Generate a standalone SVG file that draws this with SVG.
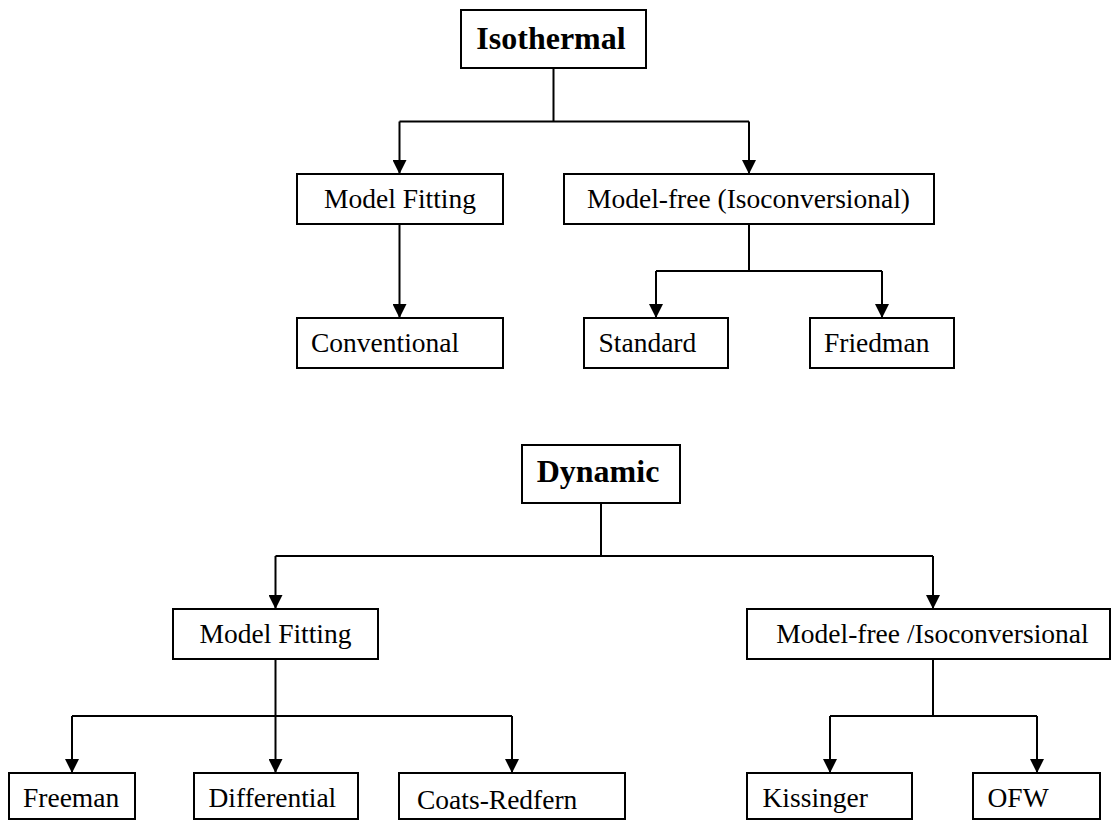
<svg xmlns="http://www.w3.org/2000/svg" width="1112" height="820" viewBox="0 0 1112 820">
<defs>
<marker id="arr" markerUnits="userSpaceOnUse" markerWidth="14" markerHeight="14" viewBox="0 0 14 14" refX="14" refY="7" orient="auto"><path d="M0,0 L14,7 L0,14 z" fill="#000"/></marker>
</defs>
<style>
.box{fill:#fff;stroke:#000;stroke-width:2}
.t{font-family:"Liberation Serif","Times New Roman",serif;font-size:27.5px;fill:#000}
.c{text-anchor:middle}
.b{font-weight:bold;font-size:32px}
.ln{fill:none;stroke:#000;stroke-width:2}
.ar{fill:none;stroke:#000;stroke-width:2;marker-end:url(#arr)}
</style>
<rect width="1112" height="820" fill="#fff"/>
<g id="connectors">
<path class="ln" d="M553.5,68 V121.5 M399.5,121.5 H749"/>
<path class="ar" d="M399.5,121.5 V174"/>
<path class="ar" d="M749,121.5 V174"/>
<path class="ar" d="M399.5,224 V318"/>
<path class="ln" d="M749,224 V271 M656,271 H882"/>
<path class="ar" d="M656,271 V318"/>
<path class="ar" d="M882,271 V318"/>
<path class="ln" d="M601,503 V556 M275.5,556 H933"/>
<path class="ar" d="M275.5,556 V609"/>
<path class="ar" d="M933,556 V609"/>
<path class="ln" d="M72,716 H512"/>
<path class="ar" d="M275.5,659 V773"/>
<path class="ar" d="M72,716 V773"/>
<path class="ar" d="M512,716 V773"/>
<path class="ln" d="M933,659 V716 M830,716 H1037"/>
<path class="ar" d="M830,716 V773"/>
<path class="ar" d="M1037,716 V773"/>
</g>
<g id="isothermal"><rect class="box" x="461" y="10" width="185" height="58"/><text class="t b c" x="551" y="48.5">Isothermal</text></g>
<g id="iso-model-fitting"><rect class="box" x="297" y="174" width="206" height="50"/><text class="t c" x="400" y="207.5">Model Fitting</text></g>
<g id="iso-model-free"><rect class="box" x="564" y="174" width="370" height="50"/><text class="t c" x="748.5" y="207.5">Model-free (Isoconversional)</text></g>
<g id="conventional"><rect class="box" x="297" y="318" width="206" height="50"/><text class="t" x="311" y="352">Conventional</text></g>
<g id="standard"><rect class="box" x="584" y="318" width="144" height="50"/><text class="t" x="598.5" y="352">Standard</text></g>
<g id="friedman"><rect class="box" x="810" y="318" width="144" height="50"/><text class="t" x="824" y="352">Friedman</text></g>
<g id="dynamic"><rect class="box" x="522" y="445" width="158" height="58"/><text class="t b c" x="598" y="482">Dynamic</text></g>
<g id="dyn-model-fitting"><rect class="box" x="173" y="609" width="205" height="50"/><text class="t c" x="275.5" y="643">Model Fitting</text></g>
<g id="dyn-model-free"><rect class="box" x="747" y="609" width="363" height="50"/><text class="t c" x="932.5" y="643">Model-free /Isoconversional</text></g>
<g id="freeman"><rect class="box" x="9" y="773" width="126" height="46"/><text class="t" x="23" y="807">Freeman</text></g>
<g id="differential"><rect class="box" x="194" y="773" width="164" height="46"/><text class="t" x="208.5" y="807">Differential</text></g>
<g id="coats-redfern"><rect class="box" x="399" y="773" width="226" height="46"/><text class="t" x="417" y="809">Coats-Redfern</text></g>
<g id="kissinger"><rect class="box" x="747" y="773" width="165" height="46"/><text class="t" x="762.5" y="807">Kissinger</text></g>
<g id="ofw"><rect class="box" x="973" y="773" width="127" height="46"/><text class="t" x="987.5" y="807">OFW</text></g>
</svg>
